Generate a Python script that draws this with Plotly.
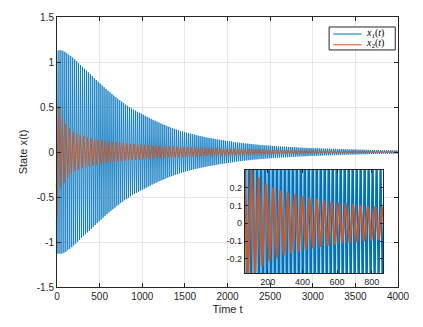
import numpy as np
import plotly.graph_objs as go

# x1(t): successive extremes, one every x1_dt time units
x1_dt = 11.5
x1_vals = [
    1.13, -1.13, 1.13, -1.13, 1.13, -1.13, 1.125, -1.12, 1.115, -1.11,
    1.10, -1.09, 1.08, -1.075, 1.066, -1.057, 1.048, -1.039, 1.03, -1.018,
    1.008, -0.997, 0.987, -0.976, 0.966, -0.955, 0.945, -0.935, 0.924, -0.914,
    0.904, -0.894, 0.884, -0.873, 0.863, -0.853, 0.843, -0.832, 0.822, -0.812,
    0.801, -0.791, 0.781, -0.770, 0.760, -0.750, 0.740, -0.730, 0.720, -0.710,
    0.700, -0.690, 0.681, -0.672, 0.663, -0.654, 0.645, -0.636, 0.627, -0.618,
    0.608, -0.599, 0.591, -0.583, 0.575, -0.567, 0.559, -0.551, 0.543, -0.535,
    0.527, -0.520, 0.513, -0.506, 0.499, -0.492, 0.485, -0.478, 0.471, -0.465,
    0.460, -0.454, 0.448, -0.442, 0.436, -0.431, 0.425, -0.420, 0.414, -0.408,
    0.402, -0.397, 0.391, -0.385, 0.380, -0.374, 0.368, -0.363, 0.357, -0.352,
    0.347, -0.342, 0.337, -0.332, 0.327, -0.322, 0.317, -0.312, 0.307, -0.303,
    0.299, -0.294, 0.290, -0.285, 0.281, -0.276, 0.272, -0.268, 0.264, -0.260,
    0.256, -0.252, 0.248, -0.245, 0.241, -0.238, 0.234, -0.231, 0.228, -0.224,
    0.221, -0.218, 0.215, -0.212, 0.209, -0.206, 0.203, -0.200, 0.198, -0.195,
    0.193, -0.190, 0.187, -0.185, 0.182, -0.180, 0.177, -0.175, 0.173, -0.170,
    0.168, -0.166, 0.163, -0.161, 0.159, -0.157, 0.155, -0.153, 0.151, -0.149,
    0.147, -0.145, 0.143, -0.141, 0.139, -0.137, 0.136, -0.134, 0.132, -0.131,
    0.129, -0.127, 0.126, -0.124, 0.122, -0.121, 0.119, -0.118, 0.116, -0.115,
    0.111, -0.110, 0.108, -0.107, 0.106, -0.104, 0.103, -0.102, 0.100, -0.099,
    0.098, -0.097, 0.095, -0.094, 0.093, -0.092, 0.091, -0.090, 0.089, -0.087,
    0.086, -0.085, 0.084, -0.083, 0.082, -0.081, 0.080, -0.079, 0.078, -0.077,
    0.076, -0.075, 0.074, -0.073, 0.073, -0.072, 0.071, -0.070, 0.069, -0.068,
    0.068, -0.067, 0.066, -0.065, 0.065, -0.064, 0.063, -0.062, 0.062, -0.061,
    0.060, -0.060, 0.059, -0.058, 0.058, -0.057, 0.056, -0.056, 0.055, -0.054,
    0.054, -0.053, 0.053, -0.052, 0.051, -0.051, 0.050, -0.050, 0.049, -0.049,
    0.048, -0.048, 0.047, -0.047, 0.046, -0.046, 0.045, -0.045, 0.044, -0.044,
    0.043, -0.043, 0.042, -0.042, 0.042, -0.041, 0.041, -0.040, 0.040, -0.040,
    0.039, -0.039, 0.038, -0.038, 0.038, -0.037, 0.037, -0.037, 0.036, -0.036,
    0.035, -0.035, 0.035, -0.034, 0.034, -0.034, 0.033, -0.033, 0.033, -0.032,
    0.032, -0.032, 0.031, -0.031, 0.031, -0.030, 0.030, -0.030, 0.029, -0.029,
    0.029, -0.028, 0.028, -0.028, 0.028, -0.027, 0.027, -0.027, 0.026, -0.026,
    0.026, -0.026, 0.025, -0.025, 0.025, -0.025, 0.024, -0.024, 0.024, -0.024,
    0.023, -0.023, 0.023, -0.023, 0.022, -0.022, 0.022, -0.022, 0.021, -0.021,
    0.021, -0.021, 0.020, -0.020, 0.020, -0.020, 0.020, -0.019, 0.019, -0.019,
    0.019, -0.019, 0.018, -0.018, 0.018, -0.018, 0.018, -0.018, 0.017, -0.017,
]

# x2(t): successive extremes, one every x2_dt time units
x2_dt = 21.0
x2_vals = [
    -0.73, 0.50, -0.40, 0.37, -0.34, 0.31, -0.28, 0.26, -0.24, 0.225,
    -0.212, 0.202, -0.194, 0.187, -0.180, 0.174, -0.168, 0.163, -0.158, 0.153,
    -0.149, 0.145, -0.141, 0.137, -0.133, 0.130, -0.127, 0.124, -0.121, 0.118,
    -0.115, 0.113, -0.111, 0.108, -0.106, 0.104, -0.102, 0.100, -0.098, 0.096,
    -0.094, 0.092, -0.090, 0.089, -0.087, 0.086, -0.084, 0.083, -0.081, 0.080,
    -0.078, 0.077, -0.076, 0.074, -0.073, 0.072, -0.070, 0.069, -0.068, 0.067,
    -0.066, 0.065, -0.064, 0.063, -0.062, 0.061, -0.060, 0.059, -0.058, 0.057,
    -0.056, 0.055, -0.054, 0.053, -0.052, 0.051, -0.051, 0.050, -0.049, 0.048,
    -0.047, 0.047, -0.046, 0.045, -0.044, 0.044, -0.043, 0.042, -0.042, 0.041,
    -0.040, 0.040, -0.039, 0.038, -0.038, 0.037, -0.037, 0.036, -0.035, 0.035,
    -0.034, 0.034, -0.033, 0.033, -0.032, 0.032, -0.031, 0.031, -0.030, 0.030,
    -0.029, 0.029, -0.028, 0.028, -0.027, 0.027, -0.026, 0.026, -0.026, 0.025,
    -0.025, 0.024, -0.024, 0.023, -0.023, 0.023, -0.022, 0.022, -0.021, 0.021,
    -0.021, 0.020, -0.020, 0.020, -0.019, 0.019, -0.019, 0.018, -0.018, 0.018,
    -0.017, 0.017, -0.017, 0.016, -0.016, 0.016, -0.015, 0.015, -0.015, 0.015,
    -0.014, 0.014, -0.014, 0.014, -0.013, 0.013, -0.013, 0.013, -0.012, 0.012,
    -0.012, 0.012, -0.012, 0.011, -0.011, 0.011, -0.011, 0.011, -0.010, 0.010,
    -0.010, 0.010, -0.010, 0.010, -0.009, 0.009, -0.009, 0.009, -0.009, 0.009,
    -0.008, 0.008, -0.008, 0.008, -0.008, 0.008, -0.008, 0.007, -0.007, 0.007,
    -0.007, 0.007,
]

series_names = ['<i>x</i><sub>1</sub>(<i>t</i>)', '<i>x</i><sub>2</sub>(<i>t</i>)']

x_ticks = [0, 500, 1000, 1500, 2000, 2500, 3000, 3500, 4000]
y_ticks = [-1.5, -1, -0.5, 0, 0.5, 1, 1.5]
y_tick_labels = ['-1.5', '-1', '-0.5', '0', '0.5', '1', '1.5']
inset_x_ticks = [200, 400, 600, 800]
inset_y_ticks = [-0.2, -0.1, 0, 0.1, 0.2]
inset_y_tick_labels = ['-0.2', '-0.1', '0', '0.1', '0.2']

t1 = x1_dt * np.arange(len(x1_vals))
t2 = x2_dt * np.arange(len(x2_vals))

blue = '#0072BD'
orange = '#D95319'
axis_col = '#262626'

data = [
    go.Scatter(x=t1, y=x1_vals, mode='lines', name=series_names[0],
               line=dict(color=blue, width=0.8)),
    go.Scatter(x=t2, y=x2_vals, mode='lines', name=series_names[1],
               line=dict(color=orange, width=1)),
    # zoomed-in copy
    go.Scatter(x=t1, y=x1_vals, mode='lines',
               line=dict(color=blue, width=1.6), xaxis='x2', yaxis='y2'),
    go.Scatter(x=t2, y=x2_vals, mode='lines',
               line=dict(color=orange, width=2), xaxis='x2', yaxis='y2'),
]

# MATLAB-style legend box drawn by hand (plotly's rows are too tall)
legend_shapes = [
    dict(type='rect', xref='paper', yref='paper', x0=0.798, x1=0.992, y0=0.878, y1=0.963,
         fillcolor='white', line=dict(color=axis_col, width=1), layer='above'),
    dict(type='line', xref='paper', yref='paper', x0=0.81, x1=0.893, y0=0.937, y1=0.937,
         line=dict(color=blue, width=1), layer='above'),
    dict(type='line', xref='paper', yref='paper', x0=0.81, x1=0.893, y0=0.897, y1=0.897,
         line=dict(color=orange, width=1), layer='above'),
]
legend_notes = [
    dict(text=series_names[0], xref='paper', yref='paper', x=0.899, y=0.94,
         xanchor='left', yanchor='middle', showarrow=False,
         font=dict(family='Liberation Serif, serif', size=10, color='black')),
    dict(text=series_names[1], xref='paper', yref='paper', x=0.899, y=0.90,
         xanchor='left', yanchor='middle', showarrow=False,
         font=dict(family='Liberation Serif, serif', size=10, color='black')),
]

layout = go.Layout(
    width=423,
    height=327,
    margin=dict(l=57, r=25, t=17, b=40),
    paper_bgcolor='white',
    plot_bgcolor='white',
    showlegend=False,
    font=dict(family='Liberation Sans, Arial, sans-serif', size=10, color=axis_col),
    xaxis=dict(
        title=dict(text='Time t', font=dict(size=11), standoff=4),
        range=[0, 4000],
        tickvals=x_ticks,
        ticks='inside', ticklen=4, tickcolor=axis_col,
        showline=True, linecolor=axis_col, linewidth=1, mirror='ticks',
        showgrid=True, gridcolor='#e6e6e6', zeroline=False,
    ),
    yaxis=dict(
        title=dict(text='State x(t)', font=dict(size=11), standoff=6),
        range=[-1.5, 1.5],
        tickvals=y_ticks, ticktext=y_tick_labels,
        ticks='inside', ticklen=4, tickcolor=axis_col,
        showline=True, linecolor=axis_col, linewidth=1, mirror='ticks',
        showgrid=True, gridcolor='#e6e6e6', zeroline=False,
    ),
    xaxis2=dict(
        domain=[0.551, 0.956], anchor='y2',
        range=[68, 865],
        tickvals=inset_x_ticks,
        ticks='inside', ticklen=3, tickcolor=axis_col,
        tickfont=dict(size=9),
        showline=True, linecolor=axis_col, linewidth=1, mirror='ticks',
        showgrid=False, zeroline=False,
    ),
    yaxis2=dict(
        domain=[0.052, 0.433], anchor='x2',
        range=[-0.28, 0.3],
        tickvals=inset_y_ticks, ticktext=inset_y_tick_labels,
        ticks='inside', ticklen=3, tickcolor=axis_col,
        tickfont=dict(size=9),
        showline=True, linecolor=axis_col, linewidth=1, mirror='ticks',
        showgrid=False, zeroline=False,
    ),
    shapes=legend_shapes,
    annotations=legend_notes,
)

fig = go.Figure(data=data, layout=layout)
fig.write_html('out.html', config={'displayModeBar': False},
               post_script="document.body.style.margin='0';")
